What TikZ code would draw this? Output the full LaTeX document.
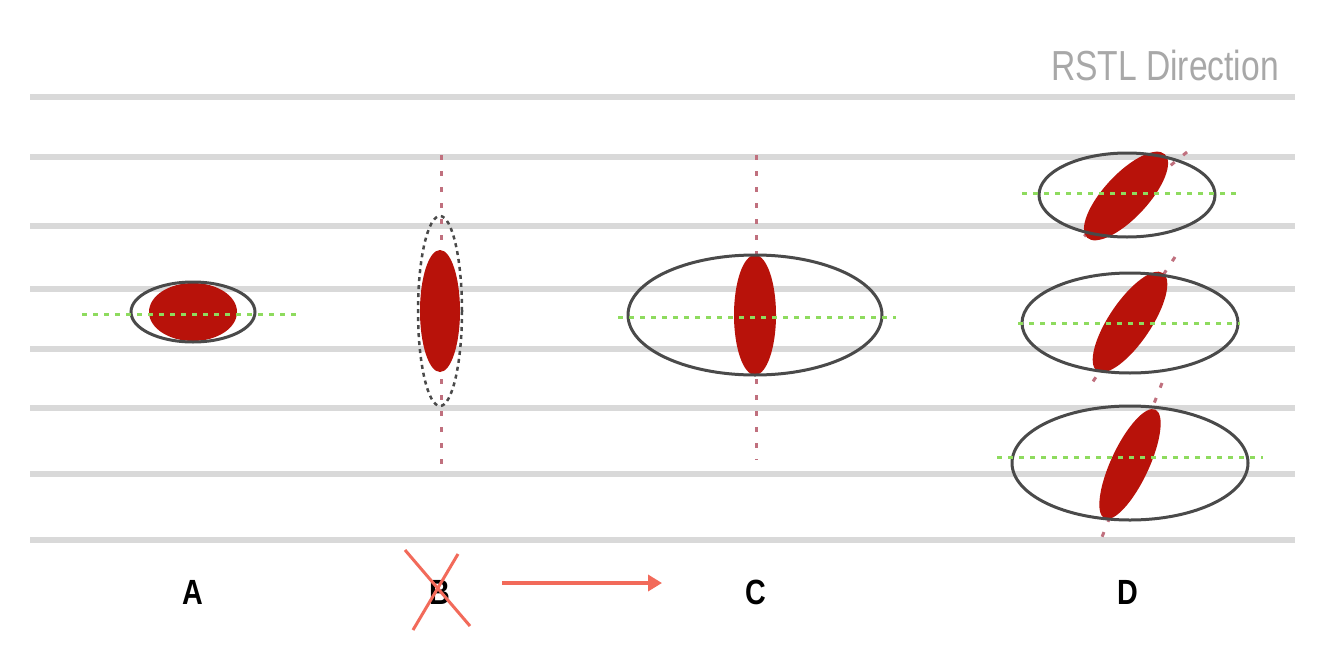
\documentclass[tikz,border=0pt]{standalone}
\usepackage{fontspec}
\setmainfont{Liberation Sans}
\usetikzlibrary{arrows.meta}
\begin{document}
\begin{tikzpicture}[x=1pt,y=-1pt,
  rstl/.style={line width=6pt,color=gridgray},
  outer/.style={draw=ringgray,line width=3pt},
  outerdash/.style={draw=ringgray,line width=2.5pt,dash pattern=on 4pt off 4pt},
  lesion/.style={fill=lesionred},
  greendot/.style={draw=dotgreen,line width=3pt,dash pattern=on 5pt off 6pt},
  reddot/.style={draw=dotred,line width=3pt,dash pattern=on 5pt off 11pt},
  lbl/.style={font=\fontsize{35}{35}\selectfont\bfseries,xscale=0.82,inner sep=0pt},
  cross/.style={draw=crossred,line width=3pt}
]
\definecolor{gridgray}{HTML}{D9D9D9}
\definecolor{ringgray}{HTML}{4A4A4A}
\definecolor{lesionred}{HTML}{B8120A}
\definecolor{dotgreen}{HTML}{8EDB5E}
\definecolor{dotred}{HTML}{C0707E}
\definecolor{crossred}{HTML}{F26A5A}
\definecolor{titlegray}{HTML}{A8A8A8}
\useasboundingbox (0,0) rectangle (1320,672);
\fill[white] (0,0) rectangle (1320,672);
% RSTL lines
\foreach \yy in {97,157,226,289,349,408,474,540}
  \draw[rstl] (30,\yy) -- (1295,\yy);
\node[font=\fontsize{42}{42}\selectfont,text=titlegray,xscale=0.8,anchor=south east,inner sep=0pt] (title) at (1279,81) {RSTL Direction};
% A
\coordinate (ca) at (193,312);
\fill[lesion] (ca) ellipse [x radius=44,y radius=29];
\draw[outer] (ca) ellipse [x radius=62,y radius=30];
\coordinate (ga1) at (82,314); \coordinate (ga2) at (300,314);
\draw[greendot] (ga1) -- (ga2);
% B
\coordinate (cb) at (440,311);
\coordinate (rb1) at (441,155); \coordinate (rb2) at (441,465);
\draw[reddot] (rb1) -- (rb2);
\fill[lesion] (cb) ellipse [x radius=20,y radius=61];
\draw[outerdash] (cb) ellipse [x radius=22,y radius=95];
% C
\coordinate (cc) at (755,315);
\coordinate (rc1) at (756,155); \coordinate (rc2) at (756,460);
\draw[reddot] (rc1) -- (rc2);
\fill[lesion] (cc) ellipse [x radius=21,y radius=60];
\draw[outer] (cc) ellipse [x radius=127,y radius=60];
\coordinate (gc1) at (618,317); \coordinate (gc2) at (896,317);
\draw[greendot] (gc1) -- (gc2);
% D1
\coordinate (cd1) at (1127,195);
\coordinate (rd1a) at (1187,152); \coordinate (rd1b) at (1082,238);
\draw[reddot] (rd1a) -- (rd1b);
\fill[lesion,rotate around={-43:(1126,196)}] (1126,196) ellipse [x radius=22,y radius=57];
\draw[outer] (cd1) ellipse [x radius=88,y radius=42];
\coordinate (gd1a) at (1022,193); \coordinate (gd1b) at (1240,193);
\draw[greendot] (gd1a) -- (gd1b);
% D2
\coordinate (cd2) at (1130,323);
\coordinate (rd2a) at (1175,257); \coordinate (rd2b) at (1092,383);
\draw[reddot] (rd2a) -- (rd2b);
\fill[lesion,rotate around={-34:(1130,322)}] (1130,322) ellipse [x radius=21,y radius=59];
\draw[outer] (cd2) ellipse [x radius=108,y radius=50];
\coordinate (gd2a) at (1018,323); \coordinate (gd2b) at (1240,323);
\draw[greendot] (gd2a) -- (gd2b);
% D3
\coordinate (cd3) at (1130,463);
\coordinate (rd3a) at (1162,383); \coordinate (rd3b) at (1102,537);
\draw[reddot] (rd3a) -- (rd3b);
\fill[lesion,rotate around={-25:(1130,464)}] (1130,464) ellipse [x radius=19,y radius=60];
\draw[outer] (cd3) ellipse [x radius=118,y radius=57];
\coordinate (gd3a) at (997,457); \coordinate (gd3b) at (1263,457);
\draw[greendot] (gd3a) -- (gd3b);
% labels
\node[lbl] (la) at (193,592) {A};
\node[lbl] (lb) at (440,592) {B};
\node[lbl] (lc) at (756,592) {C};
\node[lbl] (ld) at (1128,592) {D};
\coordinate (x1a) at (405,550); \coordinate (x1b) at (470,626);
\coordinate (x2a) at (458,554); \coordinate (x2b) at (413,630);
\draw[cross] (x1a) -- (x1b);
\draw[cross] (x2a) -- (x2b);
\coordinate (arA) at (502,583); \coordinate (arB) at (662,583);
\draw[draw=crossred,line width=4pt,-{Triangle[length=14pt,width=16pt]}] (arA) -- (arB);
\end{tikzpicture}
\end{document}
